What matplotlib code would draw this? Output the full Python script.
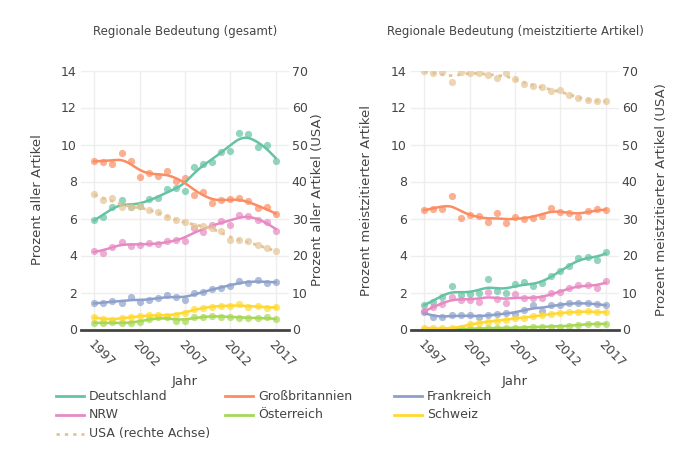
import numpy as np
import matplotlib
matplotlib.use("Agg")
import matplotlib.pyplot as plt
from matplotlib.lines import Line2D

plt.rcParams['font.family'] = ['DejaVu Sans']

years = list(range(1997, 2018))

# Left panel: Regionale Bedeutung (gesamt)
ges_de = [5.92, 6.06, 6.6, 7.0, 6.6, 6.7, 7.04, 7.1, 7.6, 7.64, 7.5, 8.8, 8.93, 9.07, 9.61, 9.65, 10.6, 10.55, 9.85, 9.97, 9.12]
ges_gb = [9.11, 9.07, 8.93, 9.52, 9.11, 8.26, 8.44, 8.3, 8.59, 8.03, 8.21, 7.27, 7.45, 6.82, 7.0, 7.05, 7.09, 6.95, 6.55, 6.6, 6.22]
ges_fr = [1.42, 1.42, 1.55, 1.45, 1.75, 1.49, 1.6, 1.69, 1.85, 1.78, 1.58, 1.96, 2.05, 2.18, 2.27, 2.33, 2.6, 2.51, 2.67, 2.51, 2.56]
ges_nrw = [4.25, 4.15, 4.45, 4.75, 4.52, 4.58, 4.65, 4.6, 4.78, 4.82, 4.78, 5.5, 5.28, 5.65, 5.85, 5.65, 6.2, 6.15, 5.92, 5.82, 5.35]
ges_at = [0.36, 0.36, 0.4, 0.33, 0.36, 0.4, 0.55, 0.65, 0.69, 0.45, 0.45, 0.69, 0.69, 0.73, 0.69, 0.69, 0.64, 0.62, 0.62, 0.65, 0.55]
ges_ch = [0.69, 0.55, 0.51, 0.64, 0.65, 0.72, 0.77, 0.81, 0.74, 0.79, 0.9, 1.1, 1.18, 1.23, 1.27, 1.25, 1.36, 1.22, 1.27, 1.15, 1.22]
ges_usa = [36.6, 35.0, 35.6, 33.0, 33.0, 33.4, 32.3, 31.8, 30.3, 29.6, 29.1, 27.9, 28.1, 27.5, 26.5, 24.2, 24.2, 23.8, 22.8, 22.1, 21.1]

# Right panel: Regionale Bedeutung (meistzitierte Artikel)
top_de = [1.32, 1.5, 1.77, 2.33, 1.88, 1.9, 1.98, 2.72, 2.07, 2.0, 2.46, 2.58, 2.36, 2.53, 2.88, 3.15, 3.43, 3.88, 3.91, 3.73, 4.18]
top_gb = [6.45, 6.49, 6.49, 7.22, 6.05, 6.18, 6.14, 5.82, 6.32, 5.73, 6.09, 6.0, 6.05, 6.14, 6.58, 6.36, 6.31, 6.09, 6.41, 6.5, 6.45]
top_fr = [0.97, 0.65, 0.65, 0.79, 0.77, 0.76, 0.66, 0.77, 0.84, 0.88, 0.83, 1.07, 1.3, 1.0, 1.33, 1.31, 1.43, 1.41, 1.41, 1.37, 1.3]
top_nrw = [0.98, 1.2, 1.36, 1.75, 1.6, 1.58, 1.5, 2.05, 1.63, 1.45, 1.9, 1.72, 1.68, 1.7, 1.95, 2.02, 2.23, 2.42, 2.38, 2.23, 2.62]
top_at = [0.0, 0.0, 0.0, 0.0, 0.04, 0.05, 0.05, 0.06, 0.1, 0.06, 0.1, 0.1, 0.15, 0.15, 0.15, 0.16, 0.2, 0.25, 0.3, 0.3, 0.3]
top_ch = [0.1, 0.06, 0.06, 0.06, 0.1, 0.32, 0.35, 0.43, 0.48, 0.53, 0.6, 0.63, 0.72, 0.77, 0.85, 0.87, 0.93, 0.96, 0.98, 0.94, 0.92]
top_usa = [69.8, 69.4, 69.5, 67.0, 69.7, 69.4, 69.4, 68.7, 68.1, 69.4, 67.6, 66.4, 65.9, 65.6, 64.5, 64.7, 63.5, 62.5, 62.0, 61.8, 61.7]

names = ["Deutschland", "Großbritannien", "Frankreich", "NRW", "Österreich", "Schweiz", "USA (rechte Achse)"]
colors = ["#66c2a5", "#fc8d62", "#8da0cb", "#e78ac3", "#a6d854", "#ffd92f", "#e5c494"]

left_titles = ["Prozent aller Artikel", "Prozent meistzitierter Artikel"]
right_titles = ["Prozent aller Artikel (USA)", "Prozent meistzitierter Artikel (USA)"]
panel_titles = ["Regionale Bedeutung (gesamt)", "Regionale Bedeutung (meistzitierte Artikel)"]
xticks = [1997, 2002, 2007, 2012, 2017]


def smooth_spline(x, y, lam=1.0, step=0.1):
    """Penalised (Whittaker) smoothing spline evaluated on a fine grid."""
    x = np.asarray(x, float)
    y = np.asarray(y, float)
    grid = np.arange(x.min(), x.max() + step / 2, step)
    m = len(grid)
    idx = np.round((x - x.min()) / step).astype(int)
    w = np.zeros(m)
    yy = np.zeros(m)
    w[idx] = 1.0
    yy[idx] = y
    D = np.diff(np.eye(m), n=2, axis=0)
    A = np.diag(w) + lam / step ** 3 * D.T @ D
    z = np.linalg.solve(A, w * yy)
    return grid, z


W, H = 700, 450
fig = plt.figure(figsize=(7, 4.5), dpi=100)
TXT = "#444444"

panels = [
    (81, [ges_de, ges_gb, ges_fr, ges_nrw, ges_at, ges_ch], ges_usa),
    (411, [top_de, top_gb, top_fr, top_nrw, top_at, top_ch], top_usa),
]
label_x = [(38, 318), (367, 661)]
center_x = [185, 515]
LAM = 0.9

for i, (left_px, series, usa) in enumerate(panels):
    ax = fig.add_axes([left_px / W, 1 - 329.5 / H, 208 / W, 259 / H])
    axr = ax.twinx()
    ax.set_xlim(1995.53, 2018.47)
    ax.set_ylim(0, 14)
    axr.set_ylim(0, 70)
    ax.set_yticks(np.arange(0, 15, 2))
    axr.set_yticks(np.arange(0, 71, 10))
    ax.set_xticks(xticks)
    ax.grid(True, color="#eeeeee", linewidth=1)
    ax.set_axisbelow(True)
    for a in (ax, axr):
        for s in a.spines.values():
            s.set_visible(False)
        a.tick_params(length=0, labelsize=9, colors=TXT)
    ax.tick_params(axis='y', pad=3)
    axr.tick_params(axis='y', pad=2)
    ax.tick_params(axis='x', pad=6)
    for lab in ax.get_xticklabels():
        lab.set_rotation(-45)
        lab.set_ha('left')
        lab.set_va('top')
        lab.set_rotation_mode('anchor')
    ax.axhline(0, color="#444444", linewidth=2, zorder=5, clip_on=False)

    for vals, c in zip(series, colors[:6]):
        ax.plot(years, vals, 'o', color=c, alpha=0.7, markersize=5.2, markeredgewidth=0, zorder=3)
        gx, gz = smooth_spline(years, vals, LAM)
        ax.plot(gx, gz, '-', color=c, linewidth=1.8, zorder=4)
    axr.plot(years, usa, 'o', color=colors[6], alpha=0.7, markersize=5.2, markeredgewidth=0, zorder=3)
    gx, gz = smooth_spline(years, usa, LAM)
    axr.plot(gx, gz, linestyle=(0, (1.2, 1.8)), color=colors[6], linewidth=2, zorder=4)

    fig.text(center_x[i] / W, 1 - 32 / H, panel_titles[i], ha='center', va='center', fontsize=8.5, color=TXT)
    fig.text(center_x[i] / W, 1 - 381 / H, "Jahr", ha='center', va='center', fontsize=9.5, color=TXT)
    fig.text(label_x[i][0] / W, 1 - 200 / H, left_titles[i], rotation=90, ha='center', va='center', fontsize=9.5, color=TXT)
    fig.text(label_x[i][1] / W, 1 - 200 / H, right_titles[i], rotation=90, ha='center', va='center', fontsize=9.5, color=TXT)

# Legend
col_x = [56, 225, 394]
row_y = [396, 415, 434]
order = [(0, 0, 0), (1, 1, 0), (2, 2, 0), (3, 0, 1), (4, 1, 1), (5, 2, 1), (6, 0, 2)]
for idx, col, row in order:
    x0 = col_x[col]
    y0 = 1 - row_y[row] / H
    ls = (0, (1.2, 1.8)) if idx == 6 else '-'
    fig.add_artist(Line2D([x0 / W, (x0 + 28) / W], [y0, y0], color=colors[idx], linewidth=2, linestyle=ls))
    fig.text((x0 + 33) / W, y0, names[idx], ha='left', va='center', fontsize=9, color=TXT)

fig.savefig("out.png", dpi=100)
